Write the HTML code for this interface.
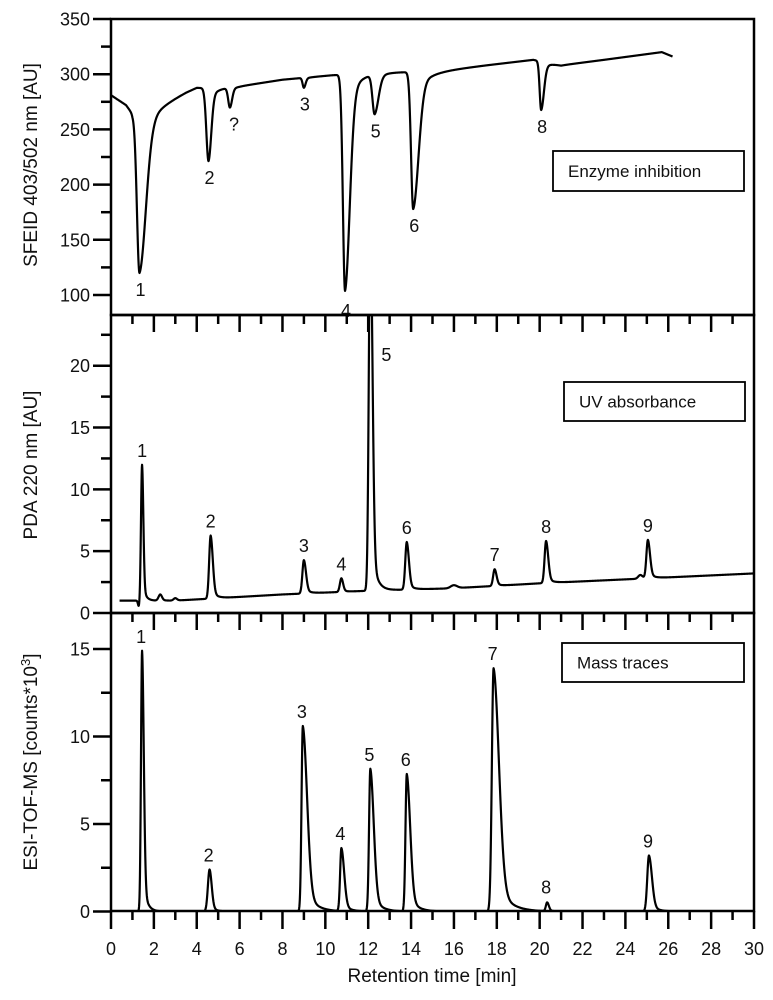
<!DOCTYPE html>
<html><head><meta charset="utf-8"><style>
html,body{margin:0;padding:0;background:#fff}
svg{display:block;font-family:"Liberation Sans",Arial,sans-serif}
</style></head><body>
<svg id="chart" width="773" height="1000" viewBox="0 0 773 1000" xmlns="http://www.w3.org/2000/svg"></svg>
<script>
// ---- X axis ----
const xTickLabels = [0,2,4,6,8,10,12,14,16,18,20,22,24,26,28,30];
// ---- Panel 1: enzyme inhibition ----
const inhYTicks = [100,150,200,250,300,350];
const inhBaseT = [0,0.7,1.0,2.0,3.5,4.0,5.0,6.0,8.0,10.3,12.8,15.0,17.5,19.7,21.0,23.0,25.7,26.2];
const inhBaseV = [281,272,264,270,284,288,287,289,295,299,302,302,308,313,308,313,320,316];
const inhDipT = [1.33,4.55,5.55,9.0,10.92,12.3,14.1,20.07];
const inhDipDepth = [146,66,18,9,196,36,124,44];
const inhDipSL = [0.12,0.1,0.08,0.06,0.1,0.1,0.1,0.07];
const inhDipSR = [0.3,0.13,0.1,0.08,0.22,0.18,0.25,0.13];
const inhLabels = ["1","2","?","3","4","5","6","8"];
// ---- Panel 2: UV ----
const uvYTicks = [0,5,10,15,20];
const uvBaseT = [0.4,3,5,8,12,16,20,25,30];
const uvBaseV = [1.0,1.0,1.2,1.5,1.8,2.0,2.4,2.8,3.2];
const uvPeakT = [1.3,1.45,2.3,3.0,4.65,9.0,10.75,12.1,13.8,16.0,17.9,20.3,24.7,25.05];
const uvPeakH = [-0.5,11,0.5,0.2,5.1,2.7,1.1,30,3.85,0.25,1.35,3.4,0.3,3.1];
const uvPeakSL = [0.04,0.05,0.08,0.08,0.07,0.07,0.07,0.07,0.07,0.15,0.07,0.07,0.1,0.07];
const uvPeakSR = [0.04,0.06,0.08,0.08,0.1,0.1,0.08,0.1,0.1,0.15,0.09,0.1,0.1,0.1];
const uvLabelIdx = [1,4,5,6,7,8,10,11,13];
const uvLabels = ["1","2","3","4","5","6","7","8","9"];
// ---- Panel 3: MS ----
const msYTicks = [0,5,10,15];
const msPeakT = [1.45,4.6,8.95,10.75,12.1,13.8,17.85,20.35,25.1];
const msPeakH = [14.9,2.4,10.6,3.6,8.15,7.85,13.9,0.5,3.2];
const msPeakSL = [0.05,0.08,0.06,0.06,0.06,0.06,0.08,0.06,0.08];
const msPeakSR = [0.08,0.1,0.2,0.13,0.16,0.16,0.25,0.08,0.14];
const msLabels = ["1","2","3","4","5","6","7","8","9"];

const NS="http://www.w3.org/2000/svg";
const svg=document.getElementById('chart');
function mk(tag,attrs,parent){const e=document.createElementNS(NS,tag);for(const k in attrs)e.setAttribute(k,attrs[k]);(parent||svg).appendChild(e);return e;}
const X0=111,X1=754;
const xs=t=>X0+(t-0)/(30-0)*(X1-X0);
const P1={top:19,bot:315,v0:100,p0:295,v1:350,p1:19};
const P2={top:315,bot:613,v0:0,p0:613,v1:20,p1:365.7};
const P3={top:613,bot:911,v0:0,p0:911.5,v1:15,p1:649};
const ys=(P,v)=>P.p0+(v-P.v0)/(P.v1-P.v0)*(P.p1-P.p0);
function interp(T,V,t){if(t<=T[0])return V[0];for(let i=1;i<T.length;i++){if(t<=T[i]){const f=(t-T[i-1])/(T[i]-T[i-1]);return V[i-1]+f*(V[i]-V[i-1]);}}return V[V.length-1];}
// asymmetric peak shape with exponential tail on the right
function agauss(t,c,h,sl,sr){
  if(t<c){const z=(t-c)/sl;return h*Math.exp(-z*z/2);}
  const z=(t-c)/sr;return h*(0.85*Math.exp(-z*z/2)+0.15*Math.exp(-(t-c)/(2.2*sr)));
}

const defs=mk('defs',{});
[[P1,'c1'],[P2,'c2'],[P3,'c3']].forEach(([P,id])=>{const cp=mk('clipPath',{id:id},defs);mk('rect',{x:X0,y:P.top,width:X1-X0,height:P.bot-P.top},cp);});

function drawLine(fn,t0,t1,P,clip,name){
  let d='';for(let t=t0;t<=t1+1e-9;t+=0.01){d+=(d?'L':'M')+xs(t).toFixed(2)+','+ys(P,fn(t)).toFixed(2);}
  const p=mk('path',{d:d,fill:'none',stroke:'#000','stroke-width':2.2,'stroke-linejoin':'round','clip-path':'url(#'+clip+')'});
  
  
}
function text(x,y,s,size,name,anchor,extra){const e=mk('text',Object.assign({x:x,y:y,'font-size':size,'text-anchor':anchor||'middle',fill:'#111'},extra||{}));e.textContent=s;return e;}

const inhFn=t=>{let v=interp(inhBaseT,inhBaseV,t);for(let i=0;i<inhDipT.length;i++)v-=agauss(t,inhDipT[i],inhDipDepth[i],inhDipSL[i],inhDipSR[i]);return v;};
drawLine(inhFn,0,26.2,P1,'c1','inhibition-trace');
inhDipT.forEach((t,i)=>{text(xs(t)+(inhLabels[i]==='?'?4:1),ys(P1,inhFn(t))+(i===4?26:23),inhLabels[i],18,'inhibition-peak-label-'+(inhLabels[i]==='?'?'unknown':inhLabels[i]));});

const uvFn=t=>{let v=interp(uvBaseT,uvBaseV,t);for(let i=0;i<uvPeakT.length;i++)v+=agauss(t,uvPeakT[i],uvPeakH[i],uvPeakSL[i],uvPeakSR[i]);return v;};
drawLine(uvFn,0.4,30,P2,'c2','uv-trace');
uvLabelIdx.forEach((pi,k)=>{const t=uvPeakT[pi];let x=xs(t),y=ys(P2,uvFn(t))-8;if(uvLabels[k]==='5'){x=xs(t)+16;y=361;}text(x,y,uvLabels[k],18,'uv-peak-label-'+uvLabels[k]);});

const msFn=t=>{let v=0;for(let i=0;i<msPeakT.length;i++)v+=agauss(t,msPeakT[i],msPeakH[i],msPeakSL[i],msPeakSR[i]);return v;};
drawLine(msFn,0,30,P3,'c3','ms-trace');
msPeakT.forEach((t,i)=>{text(xs(t)-1,ys(P3,msFn(t))-(i===7?9:8),msLabels[i],18,'ms-peak-label-'+msLabels[i]);});

function frame(P,name){const r=mk('rect',{x:X0,y:P.top,width:X1-X0,height:P.bot-P.top,fill:'none',stroke:'#000','stroke-width':2.5});}
frame(P1,'inhibition-panel-frame');frame(P2,'uv-panel-frame');frame(P3,'ms-panel-frame');
[P2,P3].forEach((P,pi)=>{for(let t=1;t<30;t++){const major=t%2===0;const l=mk('line',{x1:xs(t),x2:xs(t),y1:P.top,y2:P.top+(major?17:9),stroke:'#000','stroke-width':2.5});}});
for(let t=0;t<=30;t++){const major=t%2===0;const l=mk('line',{x1:xs(t),x2:xs(t),y1:P3.bot,y2:P3.bot+(major?18:9),stroke:'#000','stroke-width':2.5});}
xTickLabels.forEach(v=>text(xs(v),955,String(v),18,'x-tick-label'));
text(432,982,'Retention time [min]',19,'x-axis-title');
function yTicks(P,ticks,minorStep,name){
  ticks.forEach(v=>{const y=ys(P,v);const l=mk('line',{x1:X0-18,x2:X0,y1:y,y2:y,stroke:'#000','stroke-width':2.5});text(X0-21,y+6.5,String(v),18,name+'-tick-label','end');});
  for(let v=P.v0+minorStep;;v+=minorStep*2){const y=ys(P,v);if(y<P.top+2)break;const l=mk('line',{x1:X0-10,x2:X0,y1:y,y2:y,stroke:'#000','stroke-width':2.5});}
}
yTicks(P1,inhYTicks,25,'inhibition-y');yTicks(P2,uvYTicks,2.5,'uv-y');yTicks(P3,msYTicks,2.5,'ms-y');
text(0,0,'SFEID 403/502 nm [AU]',19,'inhibition-y-axis-title','middle',{transform:'translate(37,165) rotate(-90)'});
text(0,0,'PDA 220 nm [AU]',19,'uv-y-axis-title','middle',{transform:'translate(37,465) rotate(-90)'});
const t3=text(0,0,'ESI-TOF-MS [counts*10',19,'ms-y-axis-title','middle',{transform:'translate(37,762) rotate(-90)'});
const sup=mk('tspan',{dy:-7,'font-size':13},t3);sup.textContent='3';
const cl=mk('tspan',{dy:7},t3);cl.textContent=']';
function box(x,y,w,h,s,name){const g=mk('g',{});mk('rect',{x:x,y:y,width:w,height:h,fill:'#fff',stroke:'#000','stroke-width':1.8},g);const e=mk('text',{x:x+15,y:y+h/2+6,'font-size':17,fill:'#111'},g);e.textContent=s;}
box(553,151,191,40,'Enzyme inhibition','enzyme-inhibition-label-box');
box(564,382,181,39,'UV absorbance','uv-absorbance-label-box');
box(562,643,182,39,'Mass traces','mass-traces-label-box');
</script>
</body></html>
